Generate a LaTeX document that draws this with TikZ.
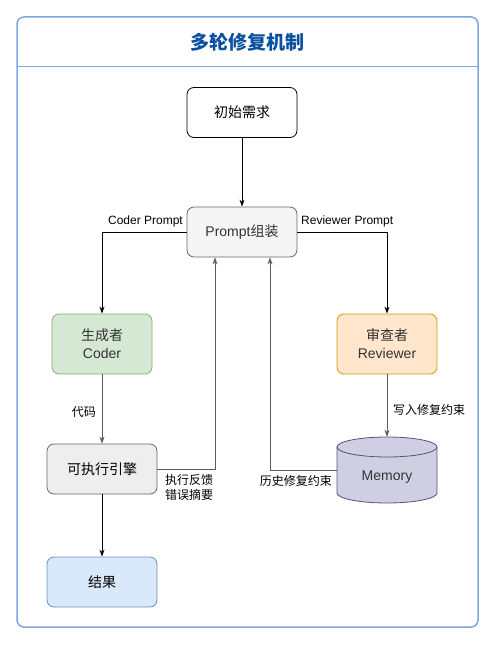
\documentclass[tikz,border=0pt]{standalone}
\usepackage{fontspec}
\setmainfont{Liberation Sans}
\newfontfamily\cjk{Noto Sans CJK SC}
\usetikzlibrary{arrows.meta}
\definecolor{frameblue}{HTML}{7EA6E0}
\definecolor{titleblue}{HTML}{0B4FA0}
\definecolor{grayfill}{HTML}{F5F5F5}
\definecolor{grayline}{HTML}{666666}
\definecolor{greenfill}{HTML}{D5E8D4}
\definecolor{greenline}{HTML}{82B366}
\definecolor{orangefill}{HTML}{FFE6CC}
\definecolor{orangeline}{HTML}{D79B00}
\definecolor{bluefill}{HTML}{DAE8FC}
\definecolor{blueline}{HTML}{6C8EBF}
\definecolor{purplefill}{HTML}{D0CEE2}
\definecolor{purpleline}{HTML}{56517E}
\definecolor{enginefill}{HTML}{EEEEEE}
\definecolor{textdark}{HTML}{333333}
\definecolor{edgegray}{HTML}{5A5A5A}
\tikzset{
  x=1pt,y=-1pt,
  box/.style={draw, rounded corners=7pt, minimum width=110pt, minimum height=50pt, inner sep=0pt, align=center, font=\fontsize{14}{17}\selectfont, line width=0.8pt},
  agent/.style={box, minimum width=100pt, minimum height=60pt},
  arr/.style={-{Stealth[length=7pt,width=5pt]}, line width=0.8pt},
  garr/.style={arr, draw=edgegray},
  elabel/.style={font=\cjk\fontsize{12}{15}\selectfont, inner sep=0pt, align=left},
  elabellat/.style={font=\fontsize{12}{15}\selectfont, inner sep=0pt},
}
\begin{document}
\begin{tikzpicture}
\useasboundingbox (0,0) rectangle (495,652);
% frame
\draw[frameblue, line width=1.5pt, rounded corners=7pt] (17,17) rectangle (478,627);
\draw[frameblue, line width=1pt] (17,67) -- (478,67);
\node[font=\cjk\fontsize{19}{22}\selectfont\bfseries, text=titleblue] (title) at (247,42) {多轮修复机制};
% nodes
\node[box, fill=white, font=\cjk\fontsize{14}{17}\selectfont] (req) at (242,112.5) {初始需求};
\node[box, fill=grayfill, draw=grayline, text=textdark] (prompt) at (242,232) {Prompt{\cjk 组装}};
\node[agent, fill=greenfill, draw=greenline, text=textdark] (coder) at (102,344) {{\cjk 生成者}\\[1pt]Coder};
\node[agent, fill=orangefill, draw=orangeline, text=textdark] (rev) at (387,344) {{\cjk 审查者}\\[1pt]Reviewer};
\node[box, fill=enginefill, draw=grayline, font=\cjk\fontsize{14}{17}\selectfont] (eng) at (102,469) {可执行引擎};
\node[box, fill=bluefill, draw=blueline, font=\cjk\fontsize{14}{17}\selectfont] (res) at (102,582) {结果};
% memory cylinder
\fill[purplefill] (337,447) -- (337,493) .. controls (337,498.52) and (359.39,503) .. (387,503) .. controls (414.61,503) and (437,498.52) .. (437,493) -- (437,447) -- cycle;
\fill[purplefill] (387,447) ellipse [x radius=50pt, y radius=10pt];
\draw[purpleline, line width=0.8pt] (337,447) -- (337,493) .. controls (337,498.52) and (359.39,503) .. (387,503) .. controls (414.61,503) and (437,498.52) .. (437,493) -- (437,447);
\draw[purpleline, line width=0.8pt] (387,447) ellipse [x radius=50pt, y radius=10pt];
\node[minimum width=100pt, minimum height=66pt, inner sep=0pt] (mem) at (387,470) {};
\node[font=\fontsize{14}{17}\selectfont, text=textdark, inner sep=0pt] (memtext) at (387,477) {Memory};
% edges
\draw[arr] (req) -- (prompt);
\draw[arr] (prompt.west) -- (102,232) -- (coder.north);
\draw[arr] (prompt.east) -- (387,232) -- (rev.north);
\draw[garr] (coder) -- (eng);
\draw[garr] (rev.south) -- (mem.north);
\draw[garr] (eng.east) -- (215,469) -- (215,257.4);
\draw[garr] (mem.west) -- (270,470) -- (270,257.4);
\draw[arr] (eng) -- (res);
% labels
\node[elabellat, anchor=east] (lcp) at (183,221) {Coder Prompt};
\node[elabellat, anchor=west] (lrp) at (301,221) {Reviewer Prompt};
\node[elabel, anchor=east] (lcode) at (96,412) {代码};
\node[elabel, anchor=west] (lwrite) at (393,410) {写入修复约束};
\node[elabel, anchor=north west] (lfb) at (165,474) {执行反馈\\错误摘要};
\node[elabel, anchor=east] (lhist) at (332,481) {历史修复约束};
\end{tikzpicture}
\end{document}
